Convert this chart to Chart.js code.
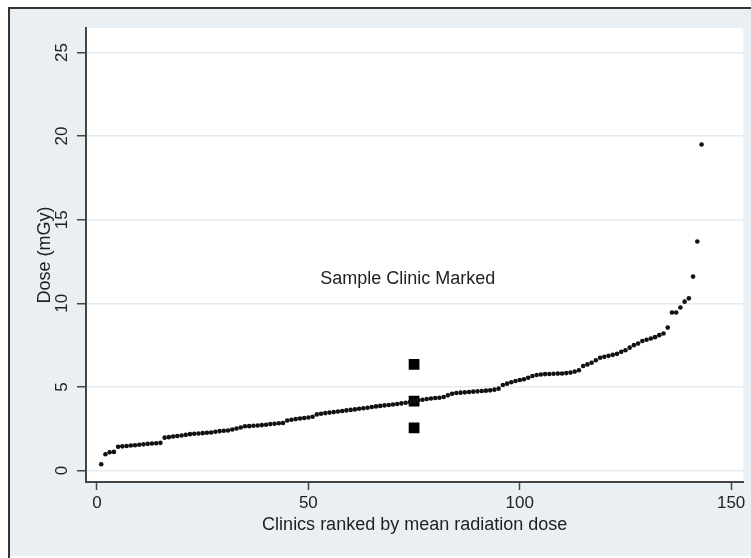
<!DOCTYPE html>
<html>
<head>
<meta charset="utf-8">
<script src="https://cdn.jsdelivr.net/npm/chart.js@4/dist/chart.umd.min.js"></script>
<style>
  html, body { margin: 0; padding: 0; background: #fff; }
</style>
</head>
<body>
<canvas id="doseChart" width="751" height="558"></canvas>
<script>
// mean dose per clinic, already sorted (clinic rank = position + 1)
const meanDose = [
  0.38, 0.98, 1.10, 1.12, 1.43, 1.45, 1.47, 1.50, 1.52, 1.55,
  1.57, 1.60, 1.62, 1.64, 1.66, 1.97, 2.00, 2.04, 2.07, 2.10,
  2.14, 2.18, 2.20, 2.22, 2.24, 2.26, 2.28, 2.32, 2.36, 2.38,
  2.40, 2.46, 2.52, 2.58, 2.65, 2.66, 2.68, 2.70, 2.72, 2.74,
  2.78, 2.80, 2.83, 2.85, 3.00, 3.04, 3.08, 3.12, 3.15, 3.18,
  3.22, 3.36, 3.40, 3.44, 3.47, 3.50, 3.53, 3.56, 3.60, 3.63,
  3.66, 3.70, 3.73, 3.76, 3.80, 3.84, 3.87, 3.90, 3.92, 3.95,
  3.98, 4.02, 4.06, 4.10, 4.15, 4.20, 4.24, 4.28, 4.31, 4.34,
  4.36, 4.40, 4.50, 4.60, 4.64, 4.66, 4.68, 4.70, 4.72, 4.74,
  4.76, 4.78, 4.80, 4.84, 4.90, 5.12, 5.20, 5.28, 5.36, 5.42,
  5.46, 5.55, 5.66, 5.72, 5.75, 5.77, 5.78, 5.79, 5.80, 5.81,
  5.83, 5.86, 5.92, 6.00, 6.25, 6.35, 6.45, 6.60, 6.75, 6.80,
  6.86, 6.92, 6.98, 7.10, 7.20, 7.35, 7.50, 7.60, 7.75, 7.82,
  7.90, 7.98, 8.10, 8.20, 8.55, 9.45, 9.45, 9.75, 10.10, 10.30,
  11.60, 13.70, 19.50
];

// the marked sample clinic: upper, mean, lower
const sampleRank = 75;
const sampleDose = [6.35, 4.15, 2.55];

const xTicks = [0, 50, 100, 150];
const yTicks = [0, 5, 10, 15, 20, 25];
const noteText = 'Sample Clinic Marked';

const FONT = "'Liberation Sans', Arial, sans-serif";
const INK = '#222';

const framePlugin = {
  id: 'frame',
  beforeDraw(chart) {
    const ctx = chart.ctx;
    const a = chart.chartArea;
    ctx.save();
    ctx.fillStyle = '#fff';
    ctx.fillRect(0, 0, chart.width, chart.height);
    ctx.fillStyle = '#e9eff2';
    ctx.fillRect(10, 9, chart.width - 10, 547);
    ctx.strokeStyle = '#333';
    ctx.lineWidth = 2;
    ctx.beginPath();
    ctx.moveTo(9, chart.height);
    ctx.lineTo(9, 8);
    ctx.lineTo(chart.width, 8);
    ctx.stroke();
    ctx.fillStyle = '#fff';
    ctx.fillRect(a.left, a.top, a.right - a.left, a.bottom - a.top);
    ctx.restore();
  }
};

const notePlugin = {
  id: 'note',
  afterDatasetsDraw(chart) {
    const ctx = chart.ctx;
    const x = chart.scales.x.getPixelForValue(73.5);
    const y = chart.scales.y.getPixelForValue(11.45);
    ctx.save();
    ctx.font = '18px ' + FONT;
    ctx.fillStyle = INK;
    ctx.textAlign = 'center';
    ctx.textBaseline = 'middle';
    ctx.fillText(noteText, x, y);
    ctx.restore();
  }
};

const ctx = document.getElementById('doseChart').getContext('2d');
const doseChart = new Chart(ctx, {
  type: 'scatter',
  data: {
    datasets: [
      {
        label: 'Clinics',
        data: meanDose.map((d, i) => ({ x: i + 1, y: d })),
        backgroundColor: '#111',
        borderColor: '#111',
        borderWidth: 0,
        pointRadius: 2.3,
        pointHoverRadius: 2.3
      },
      {
        label: 'Sample clinic',
        data: sampleDose.map(d => ({ x: sampleRank, y: d })),
        pointStyle: 'rect',
        backgroundColor: '#000',
        borderColor: '#000',
        borderWidth: 0,
        pointRadius: 7.6,
        pointHoverRadius: 7.6
      }
    ]
  },
  options: {
    responsive: false,
    animation: false,
    devicePixelRatio: 1,
    layout: { padding: { top: 28, right: 5, left: 8, bottom: 22 } },
    plugins: {
      legend: { display: false },
      tooltip: { enabled: false }
    },
    scales: {
      x: {
        type: 'linear',
        min: -2.6,
        max: 152.9,
        afterBuildTicks: s => { s.ticks = xTicks.map(v => ({ value: v })); },
        afterFit: s => { s.height = 54; s.paddingLeft = 0; s.paddingRight = 0; },
        grid: { drawOnChartArea: false, tickLength: 8, tickColor: '#444', tickWidth: 1.5 },
        border: { color: '#444', width: 2 },
        ticks: { color: INK, font: { family: FONT, size: 17 }, padding: 3, maxRotation: 0 },
        title: { display: true, text: 'Clinics ranked by mean radiation dose', color: INK,
                 font: { family: FONT, size: 18 }, padding: { top: 0, bottom: 0 } }
      },
      y: {
        min: -0.68,
        max: 26.46,
        afterBuildTicks: s => { s.ticks = yTicks.map(v => ({ value: v })); },
        afterFit: s => { s.width = 78; s.paddingTop = 0; s.paddingBottom = 0; },
        grid: { color: '#e4ecef', lineWidth: 1.5, tickLength: 9, tickColor: '#444', tickWidth: 1.5 },
        border: { color: '#444', width: 2 },
        ticks: { color: INK, font: { family: FONT, size: 17 }, padding: 5,
                 minRotation: 90, maxRotation: 90, crossAlign: 'center' },
        title: { display: true, text: 'Dose (mGy)', color: INK,
                 font: { family: FONT, size: 18 }, padding: { top: 26, bottom: 0 } }
      }
    }
  },
  plugins: [framePlugin, notePlugin]
});
</script>
</body>
</html>
